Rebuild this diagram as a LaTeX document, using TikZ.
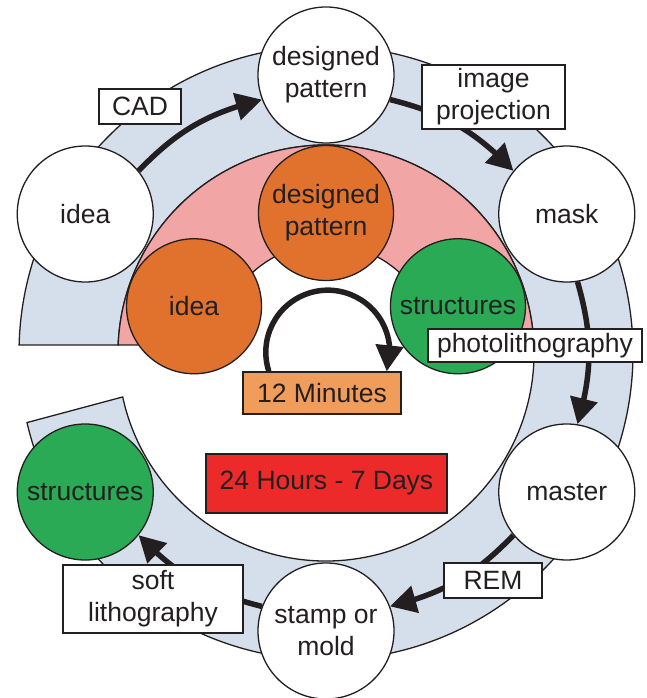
\documentclass[tikz,border=0pt]{standalone}
\usepackage{fontspec}
\setmainfont{Liberation Sans}
\usetikzlibrary{arrows.meta,bending}
\definecolor{ink}{HTML}{231F20}
\definecolor{haze}{HTML}{D4DFEB}
\definecolor{blush}{HTML}{F2A5A5}
\definecolor{rust}{HTML}{E1722E}
\definecolor{leaf}{HTML}{2BAA56}
\definecolor{apricot}{HTML}{F09C5A}
\definecolor{alarm}{HTML}{EC2A2A}
\pgfdeclarelayer{band}
\pgfdeclarelayer{under}
\pgfsetlayers{band,under,main}
\begin{document}
\begin{tikzpicture}[x=1pt,y=1pt,
  font=\fontsize{26.5}{32}\selectfont,
  outline/.style={draw=ink, line width=1.3pt},
  bubble/.style={circle, outline, fill=white, text=ink, minimum size=136pt, inner sep=0pt, align=center},
  inbubble/.style={bubble, minimum size=135pt},
  tag/.style={rectangle, outline, fill=white, text=ink, inner sep=0pt, align=center},
  flow/.style={draw=ink, line width=5.5pt, -{Triangle[length=26pt,width=27pt]}}]
\useasboundingbox (0,0) rectangle (646,698);
\coordinate (C) at (326,345);

% ring of process steps
\node[bubble] (idea)   at ([shift={(150:278)}]C) {idea};
\node[bubble] (dp)     at ([shift={(90:278)}]C)  {designed\\pattern};
\node[bubble] (mask)   at ([shift={(30:278)}]C)  {mask};
\node[bubble] (master) at ([shift={(-30:278)}]C) {master};
\node[bubble] (stamp)  at ([shift={(-90:278)}]C) {stamp or\\mold};
\node[bubble, fill=leaf] (struct) at ([shift={(210:278)}]C) {structures};

% inner, fast route
\node[inbubble, fill=rust] (idea2)   at ([shift={(160.5:140)}]C) {idea};
\node[inbubble, fill=rust] (dp2)     at ([shift={(90:140)}]C)    {designed\\pattern};
\node[inbubble, fill=leaf] (struct2) at ([shift={(19.5:140)}]C)  {structures};

% background bands
\begin{pgfonlayer}{band}
\path[fill=haze, outline]
  ([shift={(178.5:307)}]C) arc[start angle=178.5, end angle=-166.9, radius=307]
  -- ([shift={(-167.8:208)}]C) arc[start angle=-167.8, end angle=177.8, radius=208]
  -- cycle;
\path[fill=blush, outline]
  ([shift={(177.8:208)}]C) arc[start angle=177.8, end angle=2.2, radius=208]
  -- ([shift={(4.2:109)}]C) arc[start angle=4.2, end angle=175.8, radius=109]
  -- cycle;
\end{pgfonlayer}

% outer cycle arrows
\begin{pgfonlayer}{under}
\draw[flow] (idea.39)   to[bend left=16] (dp.201);
\draw[flow] (dp.-21)    to[bend left=16] (mask.141);
\draw[flow] (mask.-81)  to[bend left=16] (master.81);
\draw[flow] (master.-141) to[bend left=16] (stamp.21);
\draw[flow] (stamp.159) to[bend left=16] (struct.-39);
\end{pgfonlayer}

% step labels
\node[tag, minimum width=82pt, minimum height=35pt] (cad) at (140,591.5) {CAD};
\node[tag, minimum width=143pt, minimum height=64pt] (proj) at (493.5,601) {image\\projection};
\node[tag, minimum width=214pt, minimum height=33pt] (photo) at (535,352.5) {photolithography};
\node[tag, minimum width=98pt, minimum height=35pt] (rem) at (493,117.5) {REM};
\node[tag, minimum width=180pt, minimum height=68pt] (soft) at (153,99) {soft\\lithography};

% durations
\node[tag, fill=apricot, minimum width=158pt, minimum height=42pt] (min12) at (322,305) {12 Minutes};
\node[tag, fill=alarm, minimum width=241pt, minimum height=59pt] (days) at (326.5,214.5) {24 Hours - 7 Days};

% fast loop
\draw[flow] ([xshift=26.5pt]min12.north west) arc[start angle=198, end angle=-18, radius=62];
\end{tikzpicture}
\end{document}
